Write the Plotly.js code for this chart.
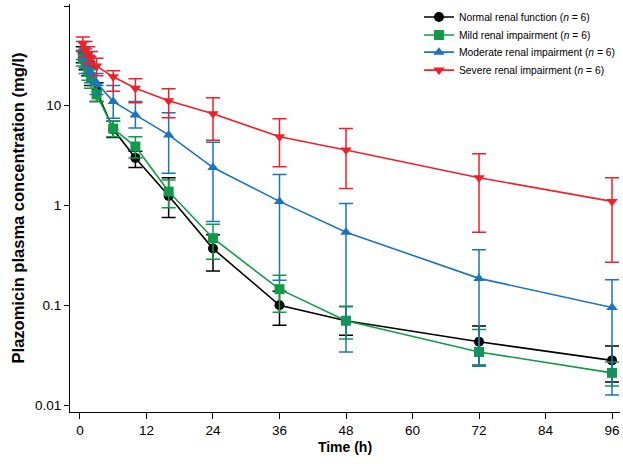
<!DOCTYPE html>
<html>
<head>
<meta charset="utf-8">
<script src="https://cdn.plot.ly/plotly-3.0.1.min.js"></script>
<style>html,body{margin:0;padding:0;background:#fff;}#chart{width:623px;height:464px;}</style>
</head>
<body>
<div id="chart"></div>
<script>
// Time points (h)
const time = [0.5, 1, 1.5, 2, 3, 6, 10, 16, 24, 36, 48, 72, 96];

// Mean concentrations (mg/l)
const normal   = [33, 28, 24, 20, 14, 5.8, 3.0, 1.25, 0.37, 0.10, 0.070, 0.043, 0.028];
const mild     = [30, 26, 22, 19, 13, 5.9, 3.9, 1.38, 0.47, 0.145, 0.070, 0.034, 0.021];
const moderate = [36, 30, 26, 21, 17, 11, 8.1, 5.1, 2.4, 1.1, 0.54, 0.186, 0.095];
const severe   = [42, 37, 33, 30, 25, 19.5, 15, 11.2, 8.3, 4.9, 3.6, 1.9, 1.1];

// Error bar upper / lower limits (mg/l)
const normalHi   = [39, 33, 28, 24, 17, 7.0, 3.5, 1.9, 0.51, 0.138, 0.097, 0.062, 0.039];
const normalLo   = [27, 23, 20, 16, 11, 4.8, 2.4, 0.76, 0.22, 0.063, 0.050, 0.025, 0.017];
const mildHi     = [36, 31, 26, 23, 16, 7.0, 4.9, 1.8, 0.65, 0.20, 0.097, 0.057, 0.027];
const mildLo     = [25, 21, 18, 15, 11, 4.9, 3.0, 0.95, 0.29, 0.085, 0.046, 0.025, 0.0155];
const moderateHi = [44, 37, 32, 26, 21, 16, 11, 8.5, 4.3, 2.04, 1.05, 0.36, 0.18];
const moderateLo = [29, 24, 21, 17, 13, 7.5, 6.0, 2.1, 0.69, 0.178, 0.034, 0.0245, 0.0126];
const severeHi   = [49, 44, 39, 35, 30, 22.4, 18.6, 14.8, 12, 7.4, 5.9, 3.3, 1.9];
const severeLo   = [35, 31, 27, 25, 20, 14, 10.7, 7.6, 4.5, 2.45, 1.48, 0.54, 0.27];

const names = [
  'Normal renal function (<i>n</i> = 6)',
  'Mild renal impairment (<i>n</i> = 6)',
  'Moderate renal impairment (<i>n</i> = 6)',
  'Severe renal impairment (<i>n</i> = 6)'
];
const colors = ['#000000', '#129a48', '#1c75bc', '#ee2028'];
const symbols = ['circle', 'square', 'triangle-up', 'triangle-down'];
const series = [normal, mild, moderate, severe];
const his = [normalHi, mildHi, moderateHi, severeHi];
const los = [normalLo, mildLo, moderateLo, severeLo];
const legendIds = ['legend', 'legend2', 'legend3', 'legend4'];

const traces = series.map((vals, i) => ({
  x: time,
  y: vals,
  name: names[i],
  legend: legendIds[i],
  type: 'scatter',
  mode: 'lines+markers',
  line: {color: colors[i], width: 1.6},
  marker: {color: colors[i], symbol: symbols[i], size: 10},
  error_y: {
    type: 'data',
    symmetric: false,
    array: his[i].map((h, k) => h - vals[k]),
    arrayminus: vals.map((v, k) => v - los[i][k]),
    color: colors[i],
    thickness: 1.5,
    width: 7
  },
  cliponaxis: false
}));

const legendRowY = [0.968, 0.924, 0.882, 0.838];
function legendBox(y) {
  return {
    x: 0.6345, y: y, xanchor: 'left', yanchor: 'middle',
    font: {size: 10.3, color: '#000'},
    bgcolor: 'rgba(0,0,0,0)',
    itemwidth: 30
  };
}

const layout = {
  width: 623,
  height: 464,
  margin: {l: 70, r: 3, t: 4, b: 52, autoexpand: false},
  paper_bgcolor: '#fff',
  plot_bgcolor: '#fff',
  font: {family: 'Liberation Sans, Arial, sans-serif', color: '#000', size: 13},
  showlegend: true,
  legend: legendBox(legendRowY[0]),
  legend2: legendBox(legendRowY[1]),
  legend3: legendBox(legendRowY[2]),
  legend4: legendBox(legendRowY[3]),
  xaxis: {
    range: [-1.8, 97.44],
    tickmode: 'array',
    tickvals: [0, 12, 24, 36, 48, 60, 72, 84, 96],
    ticks: 'outside', ticklen: 6, tickwidth: 1, tickcolor: '#000',
    showline: true, linecolor: '#000', linewidth: 1,
    showgrid: false, zeroline: false,
    tickfont: {size: 13.5},
    title: {text: '<b>Time (h)</b>', font: {size: 14}, standoff: 4}
  },
  yaxis: {
    type: 'log',
    range: [-2.07, 2.02],
    tickmode: 'array',
    tickvals: [0.01, 0.1, 1, 10, 100],
    ticktext: ['0.01', '0.1', '1', '10', '100'],
    ticks: 'outside', ticklen: 5, tickwidth: 1, tickcolor: '#000',
    showline: true, linecolor: '#000', linewidth: 1,
    showgrid: false, zeroline: false,
    tickfont: {size: 13.5},
    title: {text: '<b>Plazomicin plasma concentration (mg/l)</b>', font: {size: 16.5}, standoff: 6}
  }
};

Plotly.newPlot('chart', traces, layout, {displayModeBar: false, staticPlot: true});
</script>
</body>
</html>
